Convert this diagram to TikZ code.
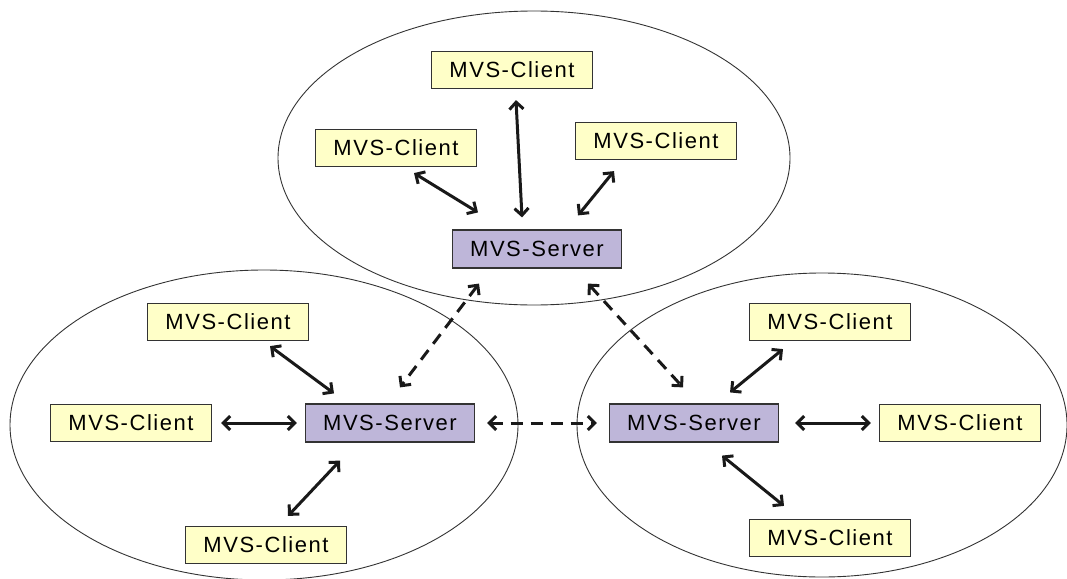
\documentclass[tikz,border=0pt]{standalone}
\usepackage{fontspec}
\setmainfont{Liberation Sans}[LetterSpace=7]
\usetikzlibrary{arrows.meta}
\definecolor{clientfill}{HTML}{FFFFC8}
\definecolor{serverfill}{HTML}{BEB6D9}
\definecolor{boxline}{HTML}{333333}
\begin{document}
\begin{tikzpicture}[x=1pt,y=-1pt,
  box/.style={draw=boxline,line width=1.2pt,minimum width=161pt,minimum height=37pt,inner sep=0pt,
    font=\fontsize{22}{24}\selectfont,text=black},
  client/.style={box,fill=clientfill},
  server/.style={box,fill=serverfill,minimum width=169pt,minimum height=38pt},
  group/.style={draw=black!80,line width=0.9pt},
  link/.style={line width=3pt,black!90,{Straight Barb[length=7pt,width=14pt]}-{Straight Barb[length=7pt,width=14pt]}},
  peer/.style={link,dash pattern=on 12pt off 8pt}]
\useasboundingbox (0,0) rectangle (1067,578);

% the three groups
\draw[group] (534,158) ellipse [x radius=256, y radius=147];
\draw[group] (264,425) ellipse [x radius=254, y radius=155];
\draw[group] (822,425) ellipse [x radius=245, y radius=152];

% upper group
\node[client] (ut)  at (512,70)  {MVS-Client};
\node[client] (ul)  at (396,148) {MVS-Client};
\node[client] (ur)  at (656,141) {MVS-Client};
\node[server] (us)  at (537,249) {MVS-Server};

% left group
\node[client] (lt)  at (228,322) {MVS-Client};
\node[client] (ll)  at (131,423) {MVS-Client};
\node[client] (lb)  at (266,545) {MVS-Client};
\node[server] (ls)  at (390,423) {MVS-Server};

% right group
\node[client] (rt)  at (830,322) {MVS-Client};
\node[client] (rr)  at (960,423) {MVS-Client};
\node[client] (rb)  at (830,538) {MVS-Client};
\node[server] (rs)  at (694,423) {MVS-Server};

% client--server links
\draw[link] ([shift={(4,11)}]ut.south) -- ([shift={(-15,-12)}]us.north);
\draw[link] ([shift={(18,6)}]ul.south) -- ([shift={(-59,-17)}]us.north);
\draw[link] ([shift={(-42,11)}]ur.south) -- ([shift={(41,-14)}]us.north);

\draw[link] ([shift={(42,5)}]lt.south) -- ([shift={(-56,-10)}]ls.north);
\draw[link] ([shift={(9,0)}]ll.east) -- ([shift={(-8,0)}]ls.west);
\draw[link] ([shift={(-50,18)}]ls.south) -- ([shift={(22,-10)}]lb.north);

\draw[link] ([shift={(-47,8)}]rt.south) -- ([shift={(36,-11)}]rs.north);
\draw[link] ([shift={(16,0)}]rs.east) -- ([shift={(-8,0)}]rr.west);
\draw[link] ([shift={(28,13)}]rs.south) -- ([shift={(-46,-13)}]rb.north);

% server--server links
\draw[peer] ([shift={(-58,15)}]us.south) -- ([shift={(10,-16)}]ls.north);
\draw[peer] ([shift={(51,15)}]us.south) -- ([shift={(-11,-16)}]rs.north);
\draw[peer] ([shift={(12,0)}]ls.east) -- ([shift={(-12,0)}]rs.west);
\end{tikzpicture}
\end{document}
